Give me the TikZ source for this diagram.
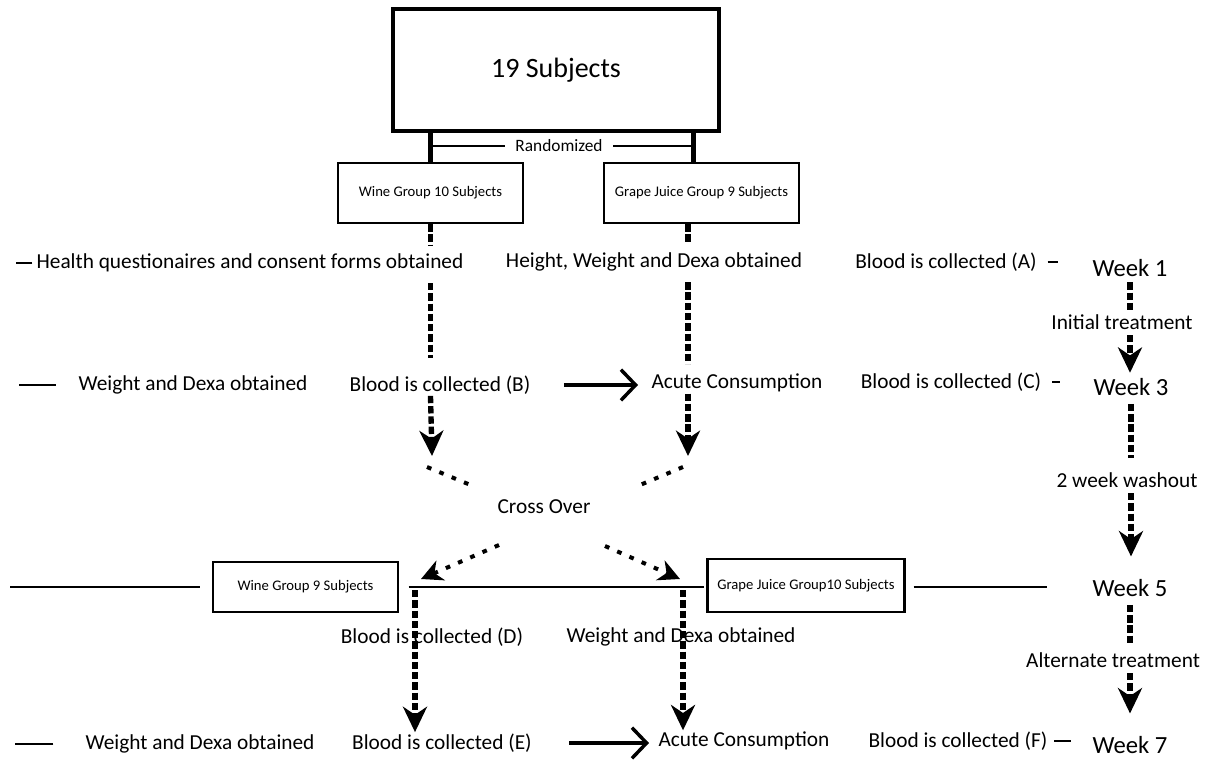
\documentclass[tikz,border=0pt]{standalone}
\usepackage{fontspec}
\setmainfont{Carlito}
\usetikzlibrary{arrows.meta,positioning,calc}

\begin{document}
\begin{tikzpicture}[x=0.75pt,y=-0.75pt,
    lbl/.style={font=\fontsize{16}{19}\selectfont, inner sep=1pt},
    wk/.style={font=\fontsize{18.5}{22}\selectfont, inner sep=1pt},
    grpbox/.style={draw, line width=1.8pt, font=\fontsize{11}{13}\selectfont, inner sep=2pt},
    dots/.style={line width=4pt, dash pattern=on 5.5pt off 2.2pt},
    dotarr/.style={dots, -{Stealth[length=19pt,width=18pt,inset=6pt]}},
    crossdots/.style={line width=3pt, dash pattern=on 3.5pt off 6.5pt},
    crossarr/.style={crossdots, -{Stealth[length=16pt,width=16pt,inset=5pt]}},
    solidarr/.style={line width=2.6pt, -{Straight Barb[length=11pt,width=23pt]}},
    rule/.style={line width=1.3pt},
    tick/.style={line width=1.5pt}]
    \useasboundingbox (0,0) rectangle (1209,763);

    % Top of the study
    \node[draw, line width=2.8pt, minimum width=244.5pt, minimum height=91.5pt,
          font=\fontsize{21}{25}\selectfont] (subj) at (556,70) {19 Subjects};
    \node[font=\fontsize{13}{15}\selectfont, inner xsep=8pt, inner ysep=1pt] (rand) at (559,146) {Randomized};
    \node[grpbox, minimum width=138.75pt, minimum height=45pt] (wine1) at (430.5,193) {Wine Group 10 Subjects};
    \node[grpbox, minimum width=146.25pt, minimum height=45pt] (grape1) at (701.5,193) {Grape Juice Group 9 Subjects};
    \coordinate (gtop) at ($(grape1.north)+(-8,0)$);

    \draw[line width=3.5pt] (wine1.north) -- (wine1.north |- subj.south);
    \draw[line width=3.5pt] (gtop) -- (gtop |- subj.south);
    \draw[line width=2.2pt] (wine1.north |- rand) -- (rand.west);
    \draw[line width=2.2pt] (rand.east) -- (gtop |- rand);

    % Week 1
    \node[lbl] (health) at (250,263) {Health questionaires and consent forms obtained};
    \node[lbl] (hwd) at (654,262) {Height, Weight and Dexa obtained};
    \node[lbl] (bloodA) at (946,262) {Blood is collected (A)};
    \node[wk] (wk1) at (1130,268) {Week 1};
    \node[lbl] (init) at (1122,322) {Initial treatment};

    % Week 3
    \node[lbl] (wdB) at (193,385) {Weight and Dexa obtained};
    \node[lbl] (bloodB) at (440,385) {Blood is collected (B)};
    \node[lbl] (acute1) at (737,383) {Acute Consumption};
    \node[lbl] (bloodC) at (951,382) {Blood is collected (C)};
    \node[wk] (wk3) at (1131,387) {Week 3};
    \node[lbl] (wash) at (1127,480) {2 week washout};

    \node[lbl] (cross) at (544,507) {Cross Over};

    % Week 5
    \node[grpbox, minimum width=138.75pt, minimum height=37.5pt] (wine2) at (305.5,587) {Wine Group 9 Subjects};
    \node[grpbox, minimum width=147.75pt, minimum height=39.75pt] (grape2) at (806,585.5) {Grape Juice Group10 Subjects};
    \node[wk] (wk5) at (1130,588) {Week 5};
    \node[lbl] (bloodD) at (432,637) {Blood is collected (D)};
    \node[lbl] (wdD) at (681,637) {Weight and Dexa obtained};
    \node[lbl] (alt) at (1113,660) {Alternate treatment};

    % Week 7
    \node[lbl] (wdE) at (200,744) {Weight and Dexa obtained};
    \node[lbl] (bloodE) at (442,743) {Blood is collected (E)};
    \node[lbl] (acute2) at (744,741) {Acute Consumption};
    \node[lbl] (bloodF) at (958,741) {Blood is collected (F)};
    \node[wk] (wk7) at (1130,745) {Week 7};

    % Wine column
    \draw[dots, shorten >=5pt] (wine1.south) -- (wine1.south |- health.north);
    \draw[dots, shorten <=7pt, shorten >=12pt] (wine1 |- health.south) -- (wine1 |- bloodB.north);
    \coordinate (wB) at (432,456);
    \draw[dotarr] (wine1 |- bloodB.south) -- (wB);

    % Grape column
    \coordinate (g1) at ($(grape1.south)+(-13.5,0)$);
    \draw[dots, shorten >=5pt] (g1) -- (g1 |- hwd.north);
    \draw[dots, shorten <=7pt, shorten >=6pt] (g1 |- hwd.south) -- (g1 |- acute1.north);
    \draw[dotarr] (g1 |- acute1.south) -- (g1 |- wB);

    % Cross over
    \coordinate (cwa) at (427,467);
    \coordinate (cwb) at (473,486);
    \coordinate (cga) at (683,467);
    \coordinate (cgb) at (640,485);
    \draw[crossdots] (cwa) -- (cwb);
    \draw[crossdots] (cga) -- (cgb);
    \coordinate (cwc) at (499,545);
    \coordinate (cwd) at (421,579);
    \coordinate (cgc) at (605,546);
    \coordinate (cgd) at (680,579);
    \draw[crossarr] (cwc) -- (cwd);
    \draw[crossarr] (cgc) -- (cgd);

    % Lower columns
    \coordinate (w2) at (415,590);
    \coordinate (g2) at (683,590);
    \draw[dotarr] (w2) -- (w2 |- bloodE.north);
    \draw[dotarr] (g2) -- (g2 |- acute2.north);

    % Timeline
    \draw[dots, shorten <=3pt] (wk1.south) -- (wk1.south |- init.north);
    \draw[dotarr, shorten <=3pt, shorten >=3pt] (wk1 |- init.south) -- (wk1 |- wk3.north);
    \draw[dots, shorten <=5pt, shorten >=10pt] (wk3.south) -- (wk3 |- wash.north);
    \draw[dotarr, shorten <=3pt, shorten >=16pt] (wk3 |- wash.south) -- (wk3 |- wk5.north);
    \draw[dots, shorten <=5pt, shorten >=6pt] (wk5.south) -- (wk5 |- alt.north);
    \draw[dotarr, shorten <=3pt, shorten >=16pt] (wk5 |- alt.south) -- (wk5 |- wk7.north);

    % Acute consumption arrows
    \draw[solidarr, shorten <=24pt, shorten >=9pt] (bloodB.east) -- (bloodB.east -| acute1.west);
    \draw[solidarr, shorten <=27pt, shorten >=6pt] (bloodE.east) -- (bloodE.east -| acute2.west);

    % Side lines
    \draw[tick] ([xshift=-2pt]health.west) -- ++(-16,0);
    \draw[tick] ([xshift=-16pt]wdB.west) -- ++(-37,0);
    \draw[tick] ([xshift=-23pt]wdE.west) -- ++(-38,0);
    \draw[tick] ([xshift=7pt]bloodA.east) -- ++(10,0);
    \draw[tick] ([xshift=7pt]bloodC.east) -- ++(8,0);
    \draw[tick] ([xshift=4pt]bloodF.east) -- ++(17,0);
    \draw[rule] ([xshift=-9pt]wine2.west) -- ++(-190,0);
    \draw[rule] ([xshift=7pt]wine2.east) -- ([xshift=-2pt]grape2.west |- wine2.east);
    \draw[rule] ([xshift=6pt]grape2.east |- wine2.east) -- ([xshift=-33pt]wk5.west |- wine2.east);
\end{tikzpicture}
\end{document}
